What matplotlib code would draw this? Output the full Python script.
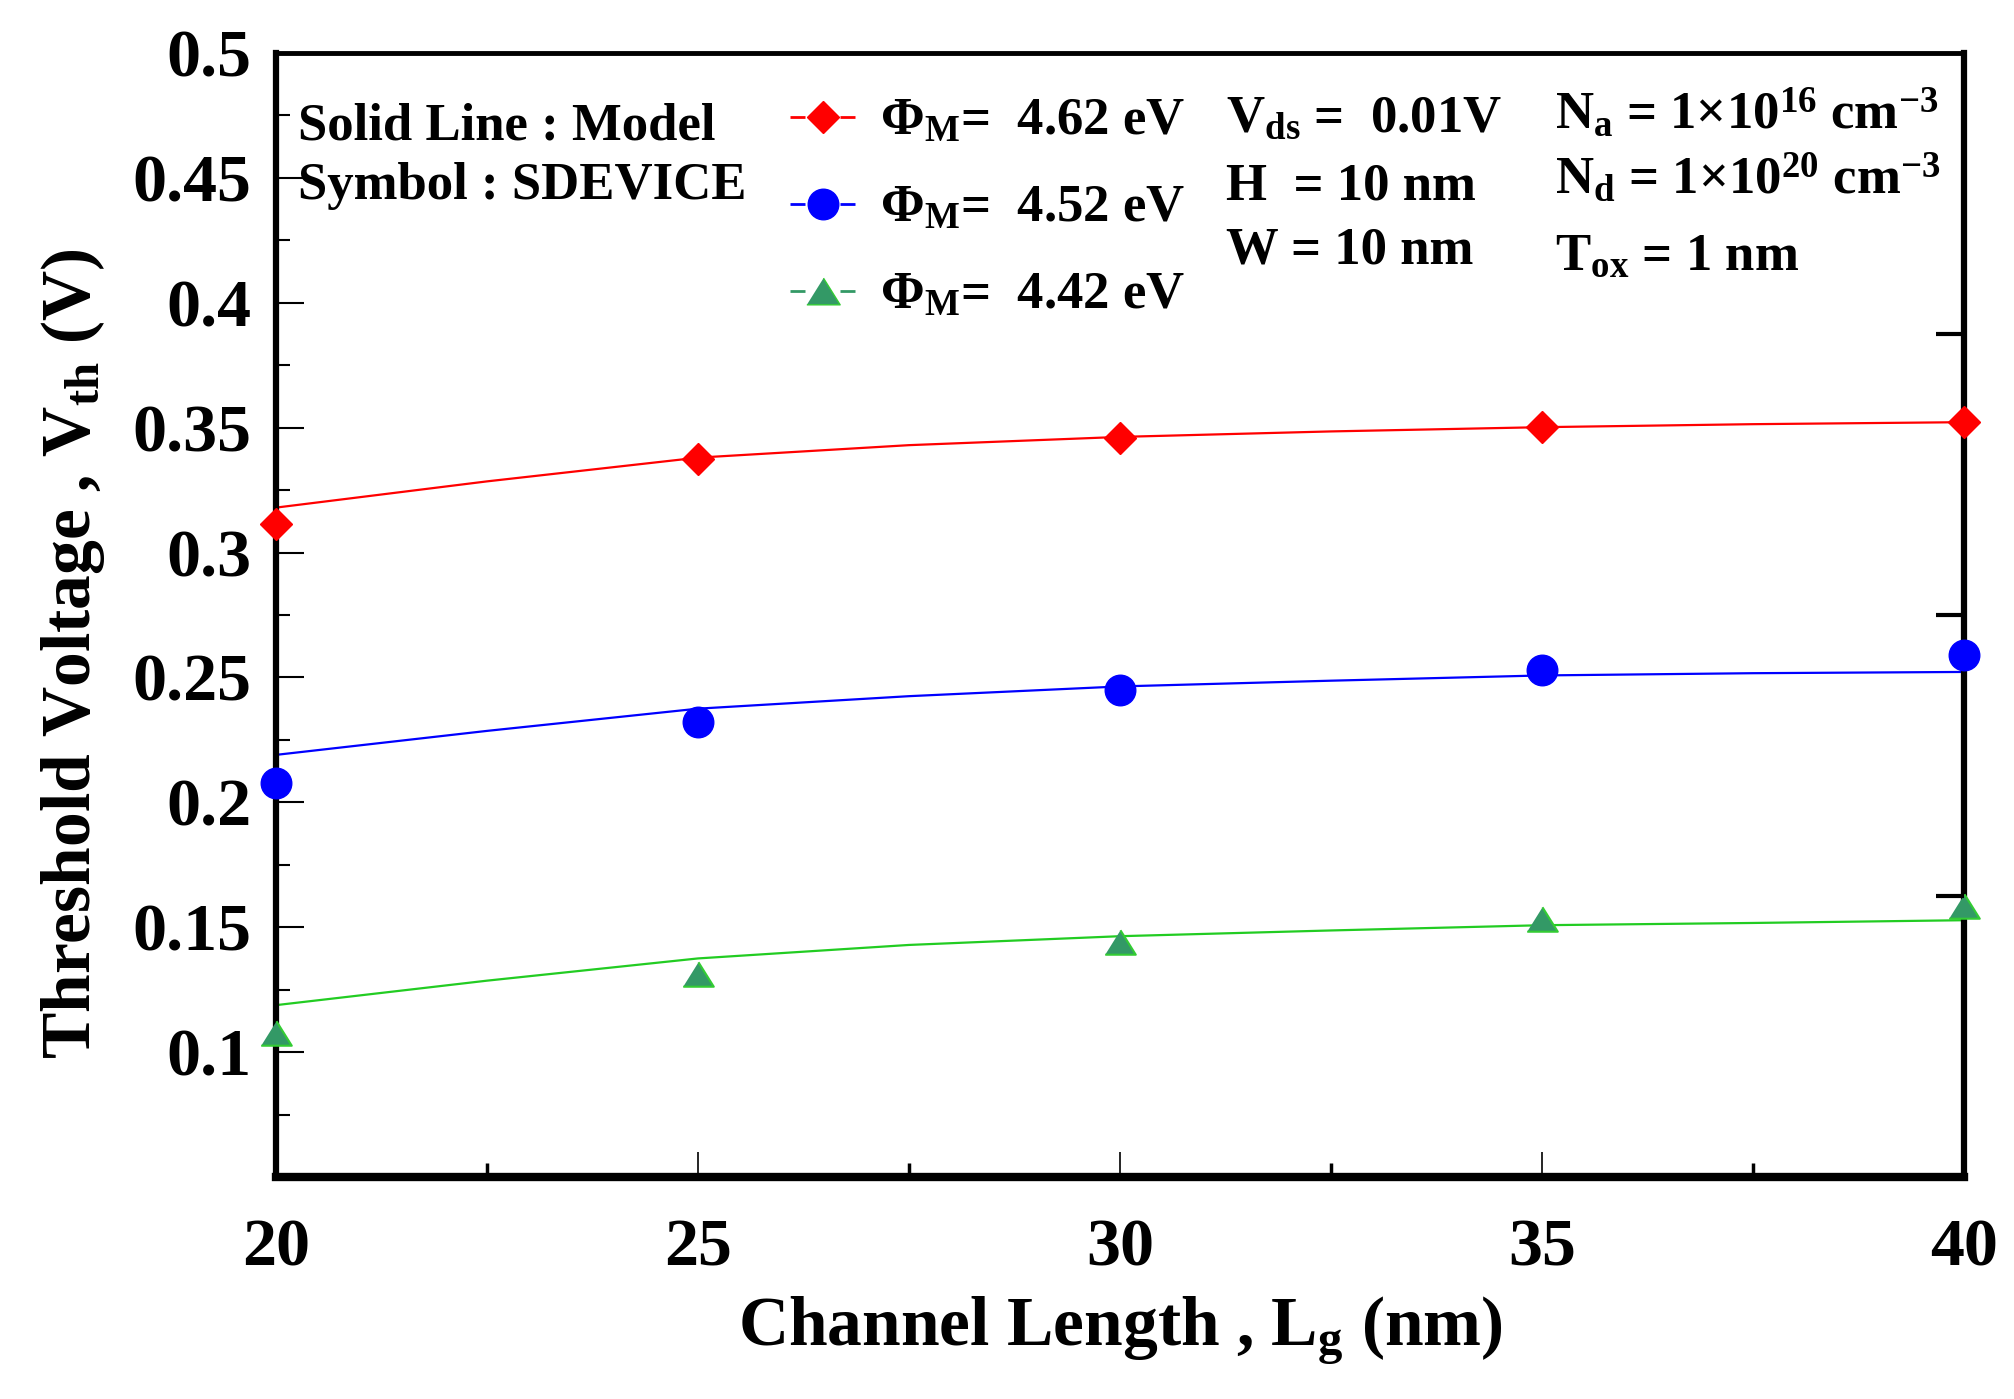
import numpy as np
import matplotlib
matplotlib.use('Agg')
import matplotlib.pyplot as plt
from matplotlib.lines import Line2D
from matplotlib.ticker import MultipleLocator

plt.rcParams.update({
    'font.family': 'Liberation Serif',
    'font.weight': 'bold',
    'axes.labelweight': 'bold',
    'mathtext.fontset': 'custom',
    'mathtext.rm': 'Liberation Serif:bold',
    'mathtext.it': 'Liberation Serif:italic:bold',
    'mathtext.bf': 'Liberation Serif:bold',
    'mathtext.default': 'rm',
})

# model curves (solid lines)
L_model = [20, 22.5, 25, 27.5, 30, 32.5, 35, 37.5, 40]
vth_model_462 = [0.318, 0.3285, 0.338, 0.343, 0.3463, 0.3485, 0.3502, 0.3514, 0.3522]
vth_model_452 = [0.219, 0.2286, 0.2375, 0.2425, 0.2464, 0.2487, 0.2508, 0.2517, 0.2522]
vth_model_442 = [0.1188, 0.1286, 0.1375, 0.1429, 0.1464, 0.1487, 0.1508, 0.1517, 0.1528]

# SDEVICE simulation (symbols)
L_sim = [20, 25, 30, 35, 40]
vth_sim_462 = [0.3116, 0.3375, 0.3458, 0.3501, 0.3522]
vth_sim_452 = [0.2077, 0.2321, 0.2449, 0.2528, 0.2589]
vth_sim_442 = [0.1075, 0.1313, 0.1440, 0.1532, 0.1585]

legend_labels = [r'$\Phi_M$=  4.62 eV', r'$\Phi_M$=  4.52 eV', r'$\Phi_M$=  4.42 eV']

tri = [(-1, -0.8), (1, -0.8), (0, 0.8)]

fig = plt.figure(figsize=(20.15, 13.99), dpi=100)
ax = fig.add_axes([0.137, 0.1587, 0.8376, 0.8034])

ax.plot(L_model, vth_model_462, color='#ff0000', lw=1.6)
ax.plot(L_model, vth_model_452, color='#0000ff', lw=1.6)
ax.plot(L_model, vth_model_442, color='#22cc22', lw=1.6)

ax.plot(L_sim, vth_sim_462, ls='none', marker='D', ms=16, color='#ff0000',
        mec='#ff0000', clip_on=False, zorder=5)
ax.plot(L_sim, vth_sim_452, ls='none', marker='o', ms=22, color='#0000ff',
        mec='#0000ff', clip_on=False, zorder=5)
ax.plot(L_sim, vth_sim_442, ls='none', marker=tri, ms=22, color='#339966',
        mec='#33cc33', mew=1.5, clip_on=False, zorder=5)

ax.set_xlim(20, 40)
ax.set_ylim(0.05, 0.5)
ax.set_xticks([20, 25, 30, 35, 40])
ax.xaxis.set_minor_locator(MultipleLocator(2.5))
ax.set_yticks(np.arange(0.1, 0.501, 0.05))
ax.set_yticklabels(['0.1', '0.15', '0.2', '0.25', '0.3', '0.35', '0.4', '0.45', '0.5'])
ax.yaxis.set_minor_locator(MultipleLocator(0.025))

ax.tick_params(axis='both', which='both', direction='in', labelsize=49)
ax.tick_params(axis='y', which='major', length=20, width=1.5, pad=18)
ax.tick_params(axis='y', which='minor', length=10, width=1.5)
ax.tick_params(axis='x', which='major', length=18, width=1.2, pad=30)
ax.tick_params(axis='x', which='minor', length=10, width=2.5)

ax.spines['left'].set_linewidth(4.5)
ax.spines['bottom'].set_linewidth(6)
ax.spines['right'].set_linewidth(4.5)
ax.spines['top'].set_linewidth(3.5)

# right-hand ticks
ax2 = ax.twinx()
ax2.set_ylim(0, 4)
ax2.set_yticks([1, 2, 3])
ax2.tick_params(axis='y', direction='in', length=20, width=3, labelright=False)
for s in ax2.spines.values():
    s.set_visible(False)

ax.set_xlabel(r'Channel Length , L$_{\rm g}$ (nm)', fontsize=50)
ax.set_ylabel(r'Threshold Voltage , V$_{\rm th}$ (V)', fontsize=50)
ax.xaxis.set_label_coords(0.5, -0.105)
ax.yaxis.set_label_coords(-0.1, 0.466)

handles = [
    Line2D([], [], color='#ff0000', lw=2, ls=(0, (5.4, 12.6)), marker='D', ms=16),
    Line2D([], [], color='#0000ff', lw=2, ls=(0, (5.4, 12.6)), marker='o', ms=22),
    Line2D([], [], color='#339966', lw=2, ls=(0, (5.4, 12.6)), marker=tri, ms=24,
           mec='#33cc33'),
]
ax.legend(handles, legend_labels, loc='upper left', bbox_to_anchor=(0.3045, 0.96),
          frameon=False, fontsize=38, handlelength=1.25, handletextpad=0.45,
          labelspacing=0.74, borderpad=0, borderaxespad=0, numpoints=1)

fs = 38
ax.text(0.013, 0.9235, 'Solid Line : Model', transform=ax.transAxes, fontsize=fs, va='baseline')
ax.text(0.013, 0.870, 'Symbol : SDEVICE', transform=ax.transAxes, fontsize=fs, va='baseline')
ax.text(0.563, 0.930, r'V$_{\rm ds}$ =  0.01V', transform=ax.transAxes, fontsize=fs, va='baseline')
ax.text(0.563, 0.870, r'H  = 10 nm', transform=ax.transAxes, fontsize=fs, va='baseline')
ax.text(0.563, 0.813, r'W = 10 nm', transform=ax.transAxes, fontsize=fs, va='baseline')
ax.text(0.758, 0.933, r'N$_{\rm a}$ = 1×10$^{16}$ cm$^{-3}$', transform=ax.transAxes, fontsize=fs, va='baseline')
ax.text(0.758, 0.875, r'N$_{\rm d}$ = 1×10$^{20}$ cm$^{-3}$', transform=ax.transAxes, fontsize=fs, va='baseline')
ax.text(0.758, 0.807, r'T$_{\rm ox}$ = 1 nm', transform=ax.transAxes, fontsize=fs, va='baseline')

fig.savefig('out.png', dpi=100)
